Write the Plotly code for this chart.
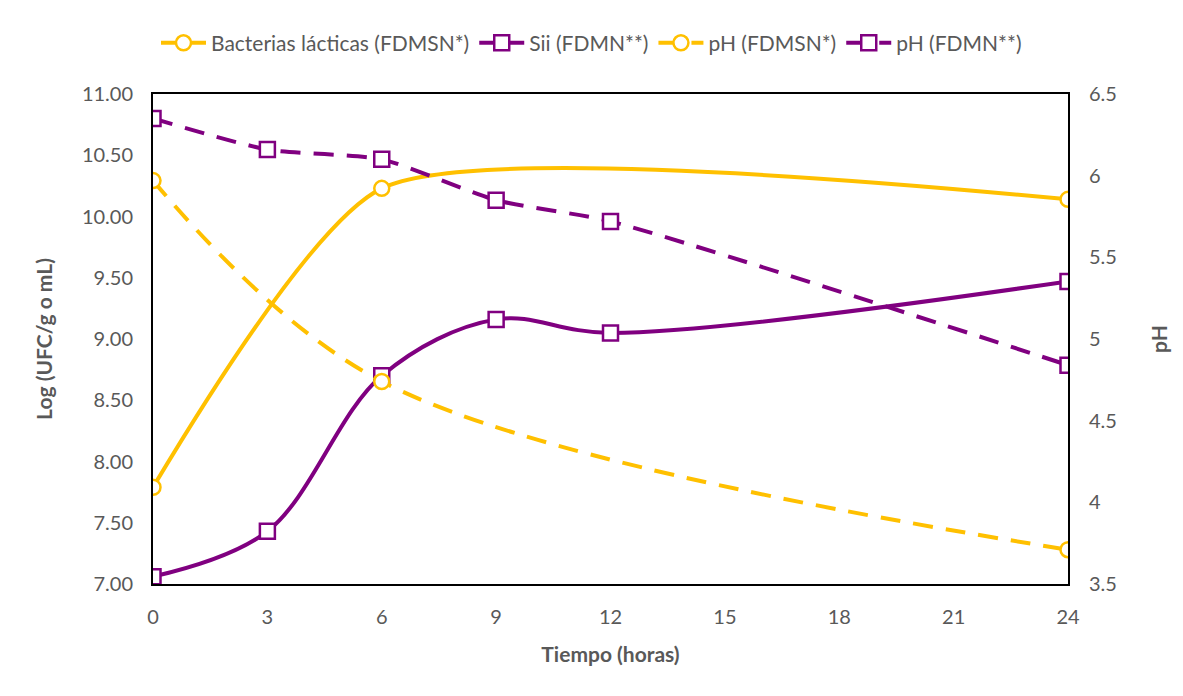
import plotly.graph_objects as go

# Sampling times (hours)
t_bal = [0, 6, 24]
t_sii = [0, 3, 6, 9, 12, 24]

# Log counts (UFC/g o mL)
bal_log = [7.79, 10.23, 10.14]
sii_log = [7.06, 7.43, 8.70, 9.16, 9.05, 9.47]

# pH values
ph_fdmsn = [5.97, 4.74, 3.71]
ph_fdmn = [6.35, 6.16, 6.10, 5.85, 5.72, 4.84]

x_ticks = [0, 3, 6, 9, 12, 15, 18, 21, 24]

YELLOW = "#FFC000"
PURPLE = "#800080"
GREY = "#595959"
FONT = "Lato"

fig = go.Figure()

fig.add_trace(go.Scatter(
    x=t_bal, y=bal_log, name="Bacterias lácticas (FDMSN*)",
    mode="lines+markers", line=dict(color=YELLOW, width=4, shape="spline", smoothing=0.6),
    marker=dict(symbol="circle", size=15, color="white", line=dict(color=YELLOW, width=2.5)),
))
fig.add_trace(go.Scatter(
    x=t_sii, y=sii_log, name="Sii (FDMN**)",
    mode="lines+markers", line=dict(color=PURPLE, width=4, shape="spline", smoothing=1),
    marker=dict(symbol="square", size=15, color="white", line=dict(color=PURPLE, width=2.5)),
))
fig.add_trace(go.Scatter(
    x=t_bal, y=ph_fdmsn, name="pH (FDMSN*)", yaxis="y2",
    mode="lines+markers", line=dict(color=YELLOW, width=4, dash="20px,13px", shape="spline", smoothing=1),
    marker=dict(symbol="circle", size=15, color="white", line=dict(color=YELLOW, width=2.5)),
))
fig.add_trace(go.Scatter(
    x=t_sii, y=ph_fdmn, name="pH (FDMN**)", yaxis="y2",
    mode="lines+markers", line=dict(color=PURPLE, width=4, dash="20px,13px", shape="spline", smoothing=0.6),
    marker=dict(symbol="square", size=15, color="white", line=dict(color=PURPLE, width=2.5)),
))

fig.update_layout(
    width=1183, height=696,
    margin=dict(l=153, r=115, t=94, b=112, autoexpand=False),
    paper_bgcolor="white", plot_bgcolor="white",
    font=dict(family=FONT, size=20, color=GREY),
    showlegend=True,
    legend=dict(orientation="h", x=0.5, xanchor="center", xref="container",
                y=0.938, yanchor="middle", yref="container", itemwidth=45,
                font=dict(size=21, color=GREY), bgcolor="rgba(0,0,0,0)"),
    xaxis=dict(range=[0, 24], tickvals=x_ticks, showgrid=False, zeroline=False,
               showline=True, linecolor="black", linewidth=2, mirror=True,
               ticks="outside", ticklen=14, tickcolor="rgba(0,0,0,0)",
               tickfont=dict(size=20, color=GREY),
               title=dict(text="<b>Tiempo (horas)</b>", font=dict(size=21, color=GREY), standoff=20)),
    yaxis=dict(range=[7, 11], dtick=0.5, tickformat=".2f", showgrid=False, zeroline=False,
               showline=True, linecolor="black", linewidth=2, mirror=True,
               ticks="outside", ticklen=14, tickcolor="rgba(0,0,0,0)",
               tickfont=dict(size=20, color=GREY),
               title=dict(text="<b>Log (UFC/g o mL)</b>", font=dict(size=21, color=GREY), standoff=24)),
    yaxis2=dict(range=[3.5, 6.5], dtick=0.5, overlaying="y", side="right", showgrid=False,
                zeroline=False, showline=False,
                ticks="outside", ticklen=16, tickcolor="rgba(0,0,0,0)",
                tickfont=dict(size=20, color=GREY),
                title=dict(text="<b>pH</b>", font=dict(size=21, color=GREY), standoff=36)),
)

fig.write_html("out.html")
